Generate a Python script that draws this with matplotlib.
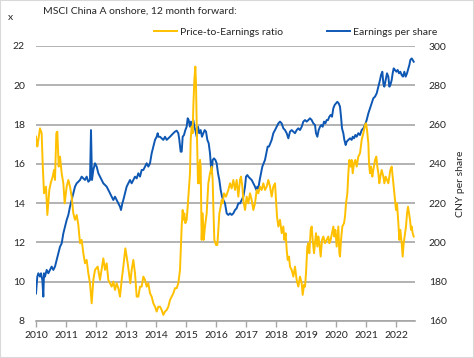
import numpy as np
import matplotlib.pyplot as plt
from matplotlib.lines import Line2D
from matplotlib.patches import Rectangle

plt.rcParams['font.family'] = ['Lato', 'DejaVu Sans']

# Price-to-Earnings ratio (left axis), decimal years
pe_t = [2010.0, 2010.044, 2010.078, 2010.133, 2010.189, 2010.222, 2010.267, 2010.3, 2010.333,
        2010.378, 2010.444, 2010.489, 2010.556, 2010.6, 2010.633, 2010.678, 2010.711, 2010.756,
        2010.8, 2010.856, 2010.911, 2010.956, 2011.022, 2011.078, 2011.133, 2011.189, 2011.244,
        2011.3, 2011.356, 2011.411, 2011.467, 2011.522, 2011.578, 2011.633, 2011.689, 2011.744,
        2011.8, 2011.856, 2011.911, 2011.967, 2012.056, 2012.133, 2012.244, 2012.3, 2012.356,
        2012.411, 2012.467, 2012.522, 2012.578, 2012.633, 2012.689, 2012.744, 2012.8, 2012.856,
        2012.911, 2012.978, 2013.056, 2013.1, 2013.144, 2013.189, 2013.244, 2013.3, 2013.356,
        2013.411, 2013.467, 2013.522, 2013.578, 2013.633, 2013.689, 2013.744, 2013.8, 2013.856,
        2013.911, 2013.967, 2014.022, 2014.078, 2014.133, 2014.189, 2014.244, 2014.3, 2014.356,
        2014.411, 2014.467, 2014.522, 2014.578, 2014.633, 2014.689, 2014.744, 2014.8, 2014.822,
        2014.856, 2014.889, 2014.911, 2014.944, 2014.978, 2015.022, 2015.056, 2015.111, 2015.133,
        2015.156, 2015.189, 2015.222, 2015.244, 2015.278, 2015.311, 2015.333, 2015.356, 2015.378,
        2015.4, 2015.422, 2015.444, 2015.467, 2015.489, 2015.522, 2015.556, 2015.589, 2015.633,
        2015.689, 2015.744, 2015.8, 2015.856, 2015.889, 2015.911, 2015.944, 2016.0, 2016.044,
        2016.078, 2016.111, 2016.156, 2016.189, 2016.222, 2016.267, 2016.333, 2016.411, 2016.467,
        2016.522, 2016.578, 2016.633, 2016.689, 2016.744, 2016.8, 2016.833, 2016.878, 2016.911,
        2016.967, 2017.022, 2017.078, 2017.133, 2017.189, 2017.244, 2017.3, 2017.356, 2017.411,
        2017.467, 2017.522, 2017.578, 2017.633, 2017.689, 2017.744, 2017.8, 2017.856, 2017.911,
        2017.967, 2018.0, 2018.033, 2018.078, 2018.133, 2018.189, 2018.244, 2018.278, 2018.322,
        2018.356, 2018.389, 2018.433, 2018.467, 2018.522, 2018.578, 2018.633, 2018.689, 2018.744,
        2018.8, 2018.856, 2018.889, 2018.933, 2018.967, 2019.0, 2019.044, 2019.078, 2019.111,
        2019.156, 2019.189, 2019.222, 2019.267, 2019.3, 2019.333, 2019.378, 2019.411, 2019.444,
        2019.489, 2019.533, 2019.578, 2019.633, 2019.689, 2019.744, 2019.778, 2019.822, 2019.867,
        2019.911, 2019.944, 2019.978, 2020.022, 2020.078, 2020.111, 2020.133, 2020.167, 2020.211,
        2020.267, 2020.3, 2020.333, 2020.378, 2020.411, 2020.444, 2020.489, 2020.522, 2020.556,
        2020.6, 2020.644, 2020.689, 2020.744, 2020.8, 2020.856, 2020.911, 2020.967, 2021.0,
        2021.033, 2021.078, 2021.1, 2021.133, 2021.167, 2021.211, 2021.244, 2021.3, 2021.344,
        2021.378, 2021.411, 2021.444, 2021.478, 2021.522, 2021.578, 2021.611, 2021.656, 2021.7,
        2021.744, 2021.778, 2021.811, 2021.856, 2021.889, 2021.922, 2021.967, 2022.0, 2022.033,
        2022.078, 2022.111, 2022.144, 2022.189, 2022.222, 2022.256, 2022.3, 2022.333, 2022.367,
        2022.4, 2022.433, 2022.467, 2022.5, 2022.522, 2022.556, 2022.589]
pe = [17.39, 16.88, 17.22, 17.81, 17.56, 16.03, 14.50, 14.67, 14.84,
      13.40, 14.67, 15.01, 15.35, 15.69, 15.18, 17.56, 17.64, 15.86,
      16.37, 15.52, 15.01, 13.99, 14.84, 15.18, 14.84, 14.33, 13.48,
      13.15, 13.40, 12.89, 11.96, 12.13, 11.45, 10.94, 11.11, 10.43,
      9.92, 8.90, 10.09, 10.60, 10.77, 10.09, 11.19, 10.60, 10.94,
      10.09, 9.92, 9.75, 10.01, 9.58, 9.92, 9.67, 9.24, 10.09,
      10.77, 11.70, 10.94, 10.43, 9.92, 10.60, 11.11, 10.43, 9.24,
      9.24, 9.75, 9.75, 10.26, 10.09, 9.75, 9.92, 9.41, 9.24,
      8.90, 8.73, 8.48, 8.73, 8.73, 8.56, 8.31, 8.48, 8.56,
      8.73, 9.07, 9.24, 9.41, 9.67, 9.67, 9.92, 10.60, 11.45,
      12.81, 13.65, 13.15, 13.48, 12.98, 13.15, 13.82, 15.01, 15.52,
      17.22, 17.90, 17.56, 18.91, 20.27, 20.95, 20.10, 18.07, 16.54,
      15.01, 16.03, 15.01, 16.20, 15.86, 12.13, 13.48, 12.13, 12.81,
      13.48, 15.01, 15.52, 15.86, 15.18, 13.82, 12.13, 11.87, 11.87,
      12.64, 13.48, 13.82, 14.16, 13.99, 14.50, 14.33, 14.67, 15.01,
      14.75, 15.18, 14.67, 15.18, 14.33, 15.18, 15.35, 14.84, 14.16,
      13.65, 14.33, 13.99, 14.50, 14.16, 13.65, 13.99, 14.67, 14.50,
      14.84, 14.67, 15.01, 14.67, 14.84, 15.18, 14.84, 14.33, 14.84,
      15.01, 14.16, 13.32, 12.81, 13.15, 12.47, 12.81, 12.13, 12.47,
      11.62, 11.11, 11.28, 10.77, 10.60, 10.26, 10.77, 10.09, 9.75,
      10.26, 9.92, 9.33, 9.84, 9.75, 10.43, 11.79, 11.96, 11.45,
      12.64, 12.81, 12.13, 11.45, 11.96, 12.47, 11.79, 12.30, 11.96,
      11.28, 12.13, 12.30, 11.96, 12.13, 12.30, 11.96, 12.13, 12.47,
      12.81, 12.30, 12.64, 11.79, 12.81, 11.45, 11.28, 12.13, 12.81,
      12.98, 13.32, 13.99, 14.50, 15.52, 16.20, 15.86, 16.20, 15.52,
      16.03, 16.20, 15.86, 16.37, 16.54, 17.22, 17.56, 17.98, 18.07,
      17.73, 17.05, 16.03, 15.52, 15.86, 15.35, 15.69, 16.20, 16.37,
      15.86, 15.52, 15.01, 15.35, 15.69, 15.35, 15.01, 15.35, 15.18,
      15.01, 15.35, 15.69, 15.86, 15.35, 14.84, 14.16, 13.65, 13.99,
      12.98, 12.13, 12.64, 11.96, 11.28, 11.96, 12.47, 12.81, 13.48,
      13.82, 13.48, 13.15, 12.64, 12.81, 12.47, 12.30]

# Earnings per share, CNY (right axis)
eps_t = [2010.0, 2010.044, 2010.078, 2010.133, 2010.167, 2010.211, 2010.244, 2010.267, 2010.3,
         2010.356, 2010.411, 2010.467, 2010.522, 2010.578, 2010.633, 2010.689, 2010.744, 2010.8,
         2010.856, 2010.911, 2010.967, 2011.022, 2011.078, 2011.133, 2011.189, 2011.244, 2011.3,
         2011.356, 2011.411, 2011.467, 2011.522, 2011.578, 2011.633, 2011.689, 2011.744, 2011.8,
         2011.833, 2011.867, 2011.911, 2011.967, 2012.022, 2012.078, 2012.133, 2012.189, 2012.244,
         2012.356, 2012.411, 2012.467, 2012.522, 2012.578, 2012.633, 2012.689, 2012.744, 2012.8,
         2012.833, 2012.878, 2012.911, 2012.967, 2013.022, 2013.078, 2013.133, 2013.189, 2013.244,
         2013.3, 2013.356, 2013.411, 2013.467, 2013.522, 2013.578, 2013.633, 2013.689, 2013.744,
         2013.8, 2013.856, 2013.911, 2013.967, 2014.022, 2014.056, 2014.078, 2014.133, 2014.189,
         2014.244, 2014.3, 2014.356, 2014.411, 2014.467, 2014.522, 2014.578, 2014.633, 2014.689,
         2014.744, 2014.778, 2014.822, 2014.856, 2014.889, 2014.933, 2014.978, 2015.022, 2015.056,
         2015.089, 2015.133, 2015.167, 2015.2, 2015.244, 2015.278, 2015.311, 2015.356, 2015.4,
         2015.444, 2015.489, 2015.533, 2015.578, 2015.622, 2015.667, 2015.711, 2015.756, 2015.8,
         2015.833, 2015.856, 2015.889, 2015.933, 2015.978, 2016.022, 2016.067, 2016.111, 2016.156,
         2016.2, 2016.244, 2016.3, 2016.356, 2016.411, 2016.467, 2016.522, 2016.578, 2016.633,
         2016.689, 2016.744, 2016.8, 2016.856, 2016.911, 2016.967, 2017.0, 2017.044, 2017.078,
         2017.133, 2017.189, 2017.244, 2017.3, 2017.344, 2017.378, 2017.411, 2017.456, 2017.5,
         2017.544, 2017.589, 2017.633, 2017.678, 2017.722, 2017.767, 2017.811, 2017.856, 2017.911,
         2017.967, 2018.022, 2018.078, 2018.133, 2018.189, 2018.244, 2018.3, 2018.356, 2018.411,
         2018.467, 2018.522, 2018.578, 2018.633, 2018.689, 2018.744, 2018.8, 2018.856, 2018.911,
         2018.967, 2019.022, 2019.078, 2019.133, 2019.189, 2019.244, 2019.3, 2019.333, 2019.378,
         2019.422, 2019.467, 2019.511, 2019.556, 2019.6, 2019.644, 2019.689, 2019.733, 2019.778,
         2019.822, 2019.867, 2019.911, 2019.956, 2020.0, 2020.044, 2020.089, 2020.133, 2020.167,
         2020.2, 2020.244, 2020.278, 2020.322, 2020.356, 2020.411, 2020.467, 2020.522, 2020.556,
         2020.6, 2020.644, 2020.689, 2020.744, 2020.8, 2020.856, 2020.911, 2020.967, 2021.022,
         2021.078, 2021.133, 2021.189, 2021.244, 2021.3, 2021.356, 2021.411, 2021.467, 2021.5,
         2021.544, 2021.578, 2021.611, 2021.656, 2021.7, 2021.744, 2021.778, 2021.811, 2021.856,
         2021.889, 2021.922, 2021.967, 2022.011, 2022.056, 2022.1, 2022.144, 2022.189, 2022.233,
         2022.278, 2022.322, 2022.367, 2022.411, 2022.444, 2022.478, 2022.522, 2022.556, 2022.589]
eps = [174.0, 182.6, 184.3, 182.6, 184.3, 180.9, 172.4, 184.3, 182.6,
       186.0, 184.3, 186.0, 187.7, 186.0, 187.7, 191.1, 194.5, 197.8,
       199.5, 204.6, 208.0, 211.4, 214.0, 218.2, 221.6, 225.0, 228.4,
       230.1, 230.9, 231.8, 233.5, 232.6, 231.8, 233.5, 230.9, 231.8,
       257.2, 231.8, 236.9, 240.3, 238.6, 235.2, 233.5, 231.8, 230.1,
       228.4, 226.7, 225.0, 223.3, 221.6, 223.3, 221.6, 219.9, 218.2,
       216.5, 219.9, 221.6, 225.0, 228.4, 230.1, 231.8, 230.1, 231.8,
       233.5, 232.6, 235.2, 233.5, 236.9, 236.9, 238.6, 240.3, 238.6,
       240.3, 245.4, 248.8, 252.2, 253.8, 255.6, 253.8, 253.8, 253.0,
       252.2, 253.8, 252.2, 253.0, 253.8, 254.7, 255.6, 256.4, 256.9,
       255.6, 252.2, 246.2, 246.2, 253.8, 254.7, 257.2, 258.9, 263.2,
       262.3, 258.9, 261.5, 258.9, 262.3, 258.9, 257.2, 253.8, 258.9,
       255.6, 257.2, 253.8, 255.6, 257.2, 256.4, 252.2, 250.5, 245.4,
       238.6, 235.2, 242.0, 242.8, 242.0, 240.3, 235.2, 231.8, 226.7,
       223.3, 221.6, 219.9, 214.8, 214.0, 214.8, 214.0, 214.8, 216.5,
       217.4, 219.9, 219.9, 221.6, 223.3, 228.4, 233.5, 234.3, 233.5,
       232.6, 231.8, 230.1, 228.4, 226.7, 228.4, 227.5, 231.8, 235.2,
       238.6, 240.3, 242.0, 245.4, 248.8, 248.8, 250.5, 252.2, 255.6,
       257.2, 258.9, 260.6, 261.5, 260.6, 258.1, 257.2, 255.6, 253.0,
       256.4, 257.2, 256.4, 255.6, 257.2, 258.1, 257.2, 258.9, 261.5,
       262.3, 261.5, 262.3, 263.2, 262.3, 260.6, 259.8, 255.6, 253.8,
       257.2, 258.9, 259.8, 258.9, 261.5, 260.6, 262.3, 262.3, 264.0,
       264.9, 264.0, 268.3, 270.0, 270.8, 271.6, 270.8, 269.1, 264.0,
       258.1, 255.6, 252.2, 249.6, 251.3, 252.2, 253.0, 252.2, 253.8,
       253.0, 254.7, 253.8, 255.6, 254.7, 257.2, 258.1, 259.8, 262.3,
       265.7, 268.3, 270.8, 273.4, 274.2, 275.9, 279.3, 282.7, 285.2,
       286.9, 281.0, 279.3, 282.7, 286.1, 284.4, 279.3, 280.1, 282.7,
       286.1, 288.6, 287.8, 286.9, 287.8, 286.1, 286.9, 285.2, 284.4,
       286.9, 284.4, 286.1, 288.6, 290.3, 292.9, 293.7, 292.9, 292.0]

years = list(range(2010, 2023))
pe_ticks = [8, 10, 12, 14, 16, 18, 20, 22]
eps_ticks = [160, 180, 200, 220, 240, 260, 280, 300]

yellow = '#FFC000'
blue = '#0E58B4'
grid_c = '#A6A6A6'
txt_c = '#262626'

fig = plt.figure(figsize=(4.74, 3.58), dpi=100)
ax2 = fig.add_axes([36/474, 37/358, 379/474, 275/358])
ax = ax2.twinx()
# EPS (right) underneath, PE (left) drawn on top
ax2.yaxis.tick_right()
ax.yaxis.tick_left()
ax.set_zorder(ax2.get_zorder() + 1)
ax.patch.set_visible(False)

ax2.plot(eps_t, eps, color=blue, lw=1.4)
ax.plot(pe_t, pe, color=yellow, lw=1.4)

ax.set_xlim(2010, 2022.633)
ax.set_ylim(8, 22)
ax2.set_ylim(160, 300)
ax.set_yticks(pe_ticks)
ax2.set_yticks(eps_ticks)
ax2.set_xticks(years)
ax2.set_xticklabels([str(y) for y in years])

ax2.grid(axis='y', color=grid_c, lw=1.2)
ax2.set_axisbelow(True)

for a in (ax, ax2):
    for s in ('top', 'left', 'right'):
        a.spines[s].set_visible(False)
ax.spines['bottom'].set_visible(False)
ax2.spines['bottom'].set_color(grid_c)
ax2.spines['bottom'].set_linewidth(1.2)

ax.tick_params(axis='y', length=0, pad=8, labelsize=7.5, labelcolor=txt_c)
ax2.tick_params(axis='y', length=0, pad=10, labelsize=7.5, labelcolor=txt_c)
ax2.tick_params(axis='x', length=4, width=1, color=grid_c, pad=3, labelsize=7.5, labelcolor=txt_c)
ax.tick_params(axis='x', length=0, labelbottom=False)

ax2.yaxis.set_label_position('right')
ax2.set_ylabel('CNY per share', fontsize=7.5, color=txt_c, labelpad=7)

fig.text(10/474, 1 - 18/358, 'x', fontsize=7.5, color=txt_c, ha='center', va='center')
fig.text(43/474, 1 - 11/358, 'MSCI China A onshore, 12 month forward:',
         fontsize=7.5, color=txt_c, ha='left', va='center')

handles = [Line2D([], [], color=yellow, lw=1.4), Line2D([], [], color=blue, lw=1.4)]
fig.legend(handles, ['Price-to-Earnings ratio', 'Earnings per share'],
           loc='center', bbox_to_anchor=(296/474, 1 - 32/358), ncol=2, frameon=False,
           fontsize=7.5, handlelength=2.2, handletextpad=0.3, columnspacing=4.2,
           labelcolor=txt_c)

fig.patches.append(Rectangle((0, 0), 1, 1, transform=fig.transFigure, fill=False,
                             edgecolor='#D9D9D9', lw=1.5))

fig.savefig('out.png', dpi=100)
